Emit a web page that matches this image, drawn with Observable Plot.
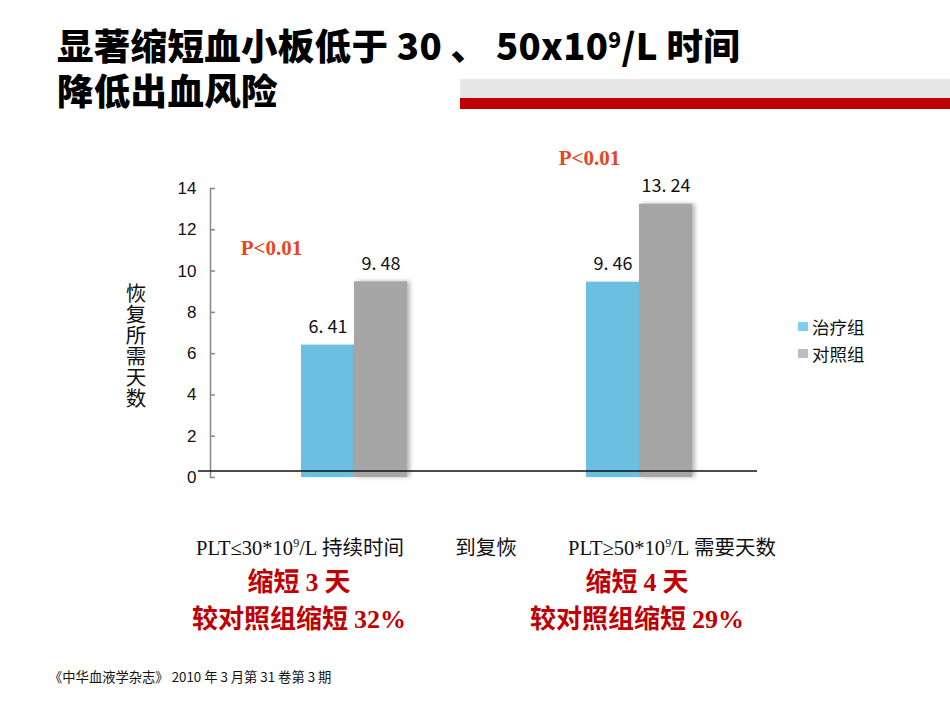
<!DOCTYPE html>
<html>
<head>
<meta charset="utf-8">
<script src="https://cdn.jsdelivr.net/npm/d3@7"></script>
<script src="https://cdn.jsdelivr.net/npm/@observablehq/plot@0.6"></script>
<style>
  body { margin: 0; background: #fff; }
  #page { position: relative; width: 950px; height: 713px; overflow: hidden;
          font-family: "Noto Sans CJK SC", sans-serif; color: #000; }
  .title { position: absolute; left: 57px; top: 22px; font-size: 36.5px; font-weight: 900; line-height: 45px; white-space: nowrap; letter-spacing: 0.3px; }
  .band-grey { position: absolute; left: 460px; top: 79px; width: 490px; height: 19px; background: #e7e7e7; }
  .band-red  { position: absolute; left: 460px; top: 98px; width: 490px; height: 11px; background: #c00000; }
  #chart { position: absolute; left: 0; top: 140px; }
  .ytitle { position: absolute; left: 125px; top: 282px; width: 22px; font-size: 20.5px; line-height: 21px; text-align: center; color: #111; }
  .legend { position: absolute; left: 798px; font-size: 17.5px; color: #111; display: flex; align-items: center; }
  .legend i { display: inline-block; width: 10px; height: 9px; margin-right: 4px; }
  .cap { position: absolute; white-space: nowrap; font-size: 20.5px; color: #111; transform: translateX(-50%); }
  .cap .ser { font-family: "Liberation Serif", "Times New Roman", serif; }
  .red { position: absolute; white-space: nowrap; font-size: 26px; font-weight: 700; color: #c00000; transform: translateX(-50%); }
  .red .ser { font-family: "Liberation Serif", "Times New Roman", serif; font-weight: 700; }
  .foot { position: absolute; left: 49px; top: 667px; font-size: 13.3px; color: #111; white-space: nowrap; }
</style>
</head>
<body>
<div id="page">
  <div class="title">显著缩短血小板低于 30 、 50x10<sup style="font-size:21px;vertical-align:12px;line-height:0">9</sup>/L 时间<br>降低出血风险</div>
  <div class="band-grey"></div>
  <div class="band-red"></div>
  <div id="chart"></div>
  <div class="ytitle">恢复所需天数</div>
  <div id="legend"></div>
  <div id="captions"></div>
  <div class="foot">《中华血液学杂志》 2010 年 3 月第 31 卷第 3 期</div>
</div>
<script>
// Days needed: time with PLT ≤ 30×10⁹/L, and days to recover to PLT ≥ 50×10⁹/L
const groups = ["PLT≤30*10⁹/L 持续时间", "PLT≥50*10⁹/L 需要天数"];
const seriesNames = ["治疗组", "对照组"];
const treatmentDays = [6.41, 9.46];
const controlDays = [9.48, 13.24];
const yTicks = [0, 2, 4, 6, 8, 10, 12, 14];
const pLabels = ["P<0.01", "P<0.01"];
const seriesColors = ["#6bbfe0", "#a6a6a6"];
const legendColors = ["#7fd0f0", "#bdbdbd"];

const rows = groups.flatMap((g, i) => [
  {group: g, series: seriesNames[0], value: treatmentDays[i]},
  {group: g, series: seriesNames[1], value: controlDays[i]}
]);
const treatRows = rows.filter(d => d.series === seriesNames[0]);
const ctrlRows = rows.filter(d => d.series === seriesNames[1]);
const fmt = v => v.toFixed(2).replace(".", ". ");
const labelFont = "'Noto Sans CJK SC', sans-serif";
const pFont = "'Liberation Serif', 'Times New Roman', serif";

const chart = Plot.plot({
  width: 950,
  height: 360,
  marginLeft: 210,
  marginRight: 193,
  marginTop: 48,
  marginBottom: 23,
  style: {fontFamily: labelFont, background: "transparent", overflow: "visible"},
  x: {domain: groups, range: [300, 692], paddingInner: 0.629, paddingOuter: 0, axis: null},
  y: {domain: [0, 14], ticks: yTicks, axis: null},
  marks: [
    Plot.barY(treatRows, {x: "group", y: "value", fill: seriesColors[0], insetRight: 53}),
    Plot.barY(ctrlRows, {x: "group", y: "value", fill: seriesColors[1], insetLeft: 53}),
    Plot.text(treatRows, {x: "group", y: "value", text: d => fmt(d.value), dx: -26.5, dy: -18,
      fontSize: 18, fill: "#111", fontFamily: labelFont}),
    Plot.text(ctrlRows, {x: "group", y: "value", text: d => fmt(d.value), dx: 26.5, dy: -18,
      fontSize: 18, fill: "#111", fontFamily: labelFont}),
    // significance markers
    Plot.text([ctrlRows[0]], {x: "group", y: "value", text: () => pLabels[0], dx: -83, dy: -34,
      fontSize: 21, fontWeight: "bold", fill: "#e8461e", fontFamily: pFont}),
    Plot.text([ctrlRows[1]], {x: "group", y: "value", text: () => pLabels[1], dx: -50, dy: -46,
      fontSize: 21, fontWeight: "bold", fill: "#e8461e", fontFamily: pFont}),
    // y axis: line, inward ticks, labels
    Plot.frame({anchor: "left", stroke: "#888", strokeWidth: 1.5}),
    Plot.axisY({ticks: yTicks, tickSize: 0, tickPadding: 14, fontSize: 17, fill: "#111",
      label: null, fontFamily: "'Liberation Sans', Arial, sans-serif"}),
    Plot.tickY(yTicks, {y: d => d, stroke: "#888", strokeWidth: 1.5, insetRight: 542}),
    // baseline
    Plot.ruleY([0], {stroke: "#111", strokeWidth: 1.5, dy: -6.5, insetLeft: -12})
  ]
});
document.getElementById("chart").appendChild(chart);

// soft edge shading on the bars
chart.querySelectorAll("g[aria-label='bar']").forEach((g, i) => {
  g.style.filter = i === 1 ? "drop-shadow(3px 0px 2px rgba(0,0,0,0.28))" : "drop-shadow(1px 0px 1.5px rgba(0,0,0,0.12))";
});

// legend
const legend = document.getElementById("legend");
seriesNames.forEach((name, i) => {
  const el = document.createElement("div");
  el.className = "legend";
  el.style.top = (314 + i * 27) + "px";
  el.innerHTML = `<i style="background:${legendColors[i]}"></i>${name}`;
  legend.appendChild(el);
});

// captions under the groups
const captionText = [
  `<span class="ser">PLT≤30*10<sup style="font-size:12px;line-height:0">9</sup>/L</span> 持续时间`,
  `<span class="ser">PLT≥50*10<sup style="font-size:12px;line-height:0">9</sup>/L</span> 需要天数`
];
const shortenDays = [3, 4];
const shortenPct = [32, 29];
const caps = document.getElementById("captions");
const centers = [300, 672];
const redCenters = [299, 637];
captionText.forEach((t, i) => {
  caps.insertAdjacentHTML("beforeend", `<div class="cap" style="left:${centers[i]}px;top:531px">${t}</div>`);
  caps.insertAdjacentHTML("beforeend", `<div class="red" style="left:${redCenters[i]}px;top:561px">缩短 <span class="ser">${shortenDays[i]}</span> 天</div>`);
  caps.insertAdjacentHTML("beforeend", `<div class="red" style="left:${redCenters[i]}px;top:598px">较对照组缩短 <span class="ser">${shortenPct[i]}%</span></div>`);
});
caps.insertAdjacentHTML("beforeend", `<div class="cap" style="left:486px;top:531px">到复恢</div>`);
</script>
</body>
</html>
